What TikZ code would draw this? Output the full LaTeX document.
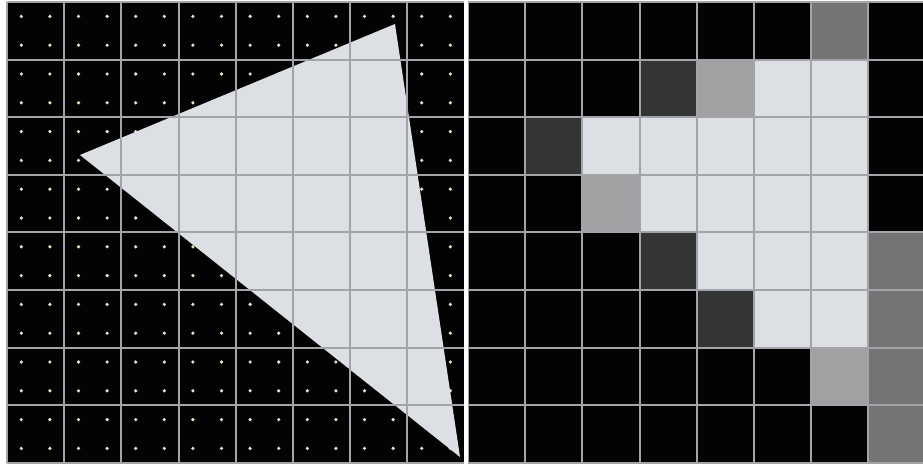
\documentclass[tikz,border=0pt]{standalone}
\definecolor{shade0}{HTML}{030303}
\definecolor{shade1}{HTML}{323534}
\definecolor{shade2}{HTML}{747474}
\definecolor{shade3}{HTML}{A1A1A3}
\definecolor{shade4}{HTML}{DCDFE3}
\definecolor{linegray}{HTML}{A2A4AA}
\definecolor{dotcol}{HTML}{E4E4C4}

\begin{document}
\begin{tikzpicture}[
    x=57.2pt, y=-57.6pt,
    gridline/.style={draw=linegray, line width=2pt},
    sample/.style={fill=dotcol, draw=none},
    tri/.style={fill=shade4, draw=none},
    gap/.style={draw=white, line width=4pt}
]
\path[use as bounding box, fill=white] (-0.1224,-0.0347) rectangle (16.014,8.038);

\fill[shade0] (0,0) rectangle (8,8);
\foreach \i in {0,...,7}
  \foreach \j in {0,...,7}
    \foreach \dx/\dy in {0.25/0.25,0.75/0.25,0.25/0.75,0.75/0.75}
      \fill[sample] (\i+\dx,\j+\dy) circle (1.8pt);
\fill[tri] (1.276,2.656) -- (6.783,0.382) -- (7.92,7.90) -- cycle;
\foreach \k in {0,...,8} {
  \draw[gridline] (\k,0) -- (\k,8);
  \draw[gridline] (0,\k) -- (8,\k);
}

\begin{scope}[shift={(8.0594,0)}]
\clip (-0.05,-0.05) rectangle (7.955,8.05);
\foreach \row [count=\r from 0] in {
    {0,0,0,0,0,0,2,0},
    {0,0,0,1,3,4,4,0},
    {0,1,4,4,4,4,4,0},
    {0,0,3,4,4,4,4,0},
    {0,0,0,1,4,4,4,2},
    {0,0,0,0,1,4,4,2},
    {0,0,0,0,0,0,3,2},
    {0,0,0,0,0,0,0,2}}
  \foreach \v [count=\c from 0] in \row
    \fill[shade\v] (\c,\r) rectangle (\c+1,\r+1);
\foreach \k in {0,...,8} {
  \draw[gridline] (\k,0) -- (\k,8);
  \draw[gridline] (0,\k) -- (8,\k);
}
\end{scope}

\draw[gap] (8.03,-0.05) -- (8.03,8.05);
\end{tikzpicture}
\end{document}
